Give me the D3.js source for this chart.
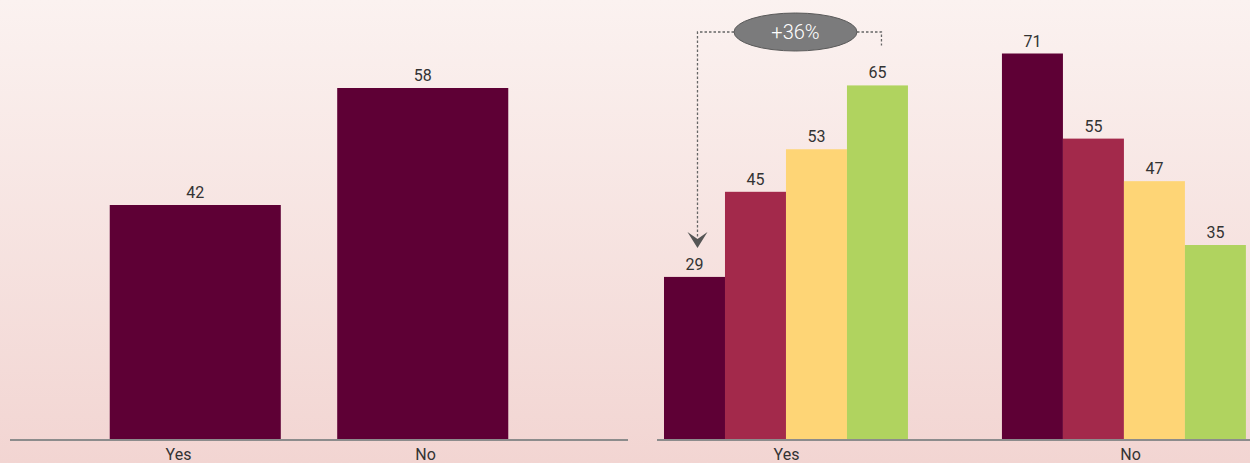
<!DOCTYPE html>
<html>
<head>
<meta charset="utf-8">
<script src="https://cdn.jsdelivr.net/npm/d3@7/dist/d3.min.js"></script>
<style>
  html, body { margin: 0; padding: 0; }
  body { width: 1250px; height: 463px; overflow: hidden; }
  svg { display: block; font-family: Roboto, "Noto Sans", sans-serif; }
</style>
</head>
<body>
<svg id="chart" width="1250" height="463"></svg>
<script>
// Categories and values
const categories = ["Yes", "No"];
const overallValues = [42, 58];
const seriesNames = ["s1", "s2", "s3", "s4"];
const groupedValues = {
  Yes: [29, 45, 53, 65],
  No:  [71, 55, 47, 35]
};
const seriesColors = ["#5e0035", "#a3294b", "#fed576", "#b0d35f"];
const changeLabel = "+36%";

const W = 1250, H = 463;
const baseY = 439;
const svg = d3.select("#chart");

// Background gradient
const defs = svg.append("defs");
const grad = defs.append("linearGradient")
  .attr("id", "bg").attr("x1", 0).attr("y1", 0).attr("x2", 0).attr("y2", 1);
grad.append("stop").attr("offset", "0%").attr("stop-color", "#fbf2f0");
grad.append("stop").attr("offset", "100%").attr("stop-color", "#f2d5d2");
svg.append("rect").attr("width", W).attr("height", H).attr("fill", "url(#bg)");

const labelFont = 16;
const textColor = "#333";

// ---------- Left panel: overall ----------
const xL = d3.scaleBand().domain(categories).range([-4, 622]).paddingInner(0.248).paddingOuter(0.5);
const yL = d3.scaleLinear().domain([10, 58]).range([baseY, 88]);
const xLAxis = d3.scalePoint().domain(categories).range([178, 425]);

const left = svg.append("g");
left.selectAll("rect.bar").data(categories).join("rect")
  .attr("class", "bar")
  .attr("x", d => xL(d))
  .attr("width", xL.bandwidth())
  .attr("y", (d, i) => yL(overallValues[i]))
  .attr("height", (d, i) => baseY - yL(overallValues[i]))
  .attr("fill", seriesColors[0]);

left.selectAll("text.val").data(categories).join("text")
  .attr("class", "val")
  .attr("x", d => xL(d) + xL.bandwidth() / 2)
  .attr("y", (d, i) => yL(overallValues[i]) - 7)
  .attr("text-anchor", "middle")
  .attr("font-size", labelFont)
  .attr("fill", textColor)
  .text((d, i) => overallValues[i]);

const axL = left.append("g").attr("transform", `translate(0,${baseY})`)
  .call(d3.axisBottom(xLAxis).tickSize(0).tickPadding(10));
axL.select(".domain").remove();
axL.selectAll("text").attr("font-size", labelFont).attr("fill", textColor)
  .attr("font-family", "Roboto, 'Noto Sans', sans-serif");
left.append("line").attr("x1", 10).attr("x2", 628).attr("y1", baseY + 1).attr("y2", baseY + 1)
  .attr("stroke", "#8c8c8c").attr("stroke-width", 2);

// ---------- Right panel: grouped ----------
const x0 = d3.scaleBand().domain(categories).range([630.2, 1279.7]).paddingInner(0.2781).paddingOuter(0.1);
const x1 = d3.scaleBand().domain(seriesNames).range([0, x0.bandwidth()]);
const yR = d3.scaleLinear().domain([-1.47, 71]).range([baseY, 53.5]);
const xRAxis = d3.scalePoint().domain(categories).range([786, 1130]);

const right = svg.append("g");
const groups = right.selectAll("g.grp").data(categories).join("g")
  .attr("class", "grp")
  .attr("transform", d => `translate(${x0(d)},0)`);

groups.selectAll("rect").data(d => groupedValues[d].map((v, i) => ({ v, s: seriesNames[i], i })))
  .join("rect")
  .attr("x", d => x1(d.s))
  .attr("width", x1.bandwidth())
  .attr("y", d => yR(d.v))
  .attr("height", d => baseY - yR(d.v))
  .attr("fill", d => seriesColors[d.i]);

groups.selectAll("text").data(d => groupedValues[d].map((v, i) => ({ v, s: seriesNames[i] })))
  .join("text")
  .attr("x", d => x1(d.s) + x1.bandwidth() / 2)
  .attr("y", d => yR(d.v) - 7)
  .attr("text-anchor", "middle")
  .attr("font-size", labelFont)
  .attr("fill", textColor)
  .text(d => d.v);

const axR = right.append("g").attr("transform", `translate(0,${baseY})`)
  .call(d3.axisBottom(xRAxis).tickSize(0).tickPadding(10));
axR.select(".domain").remove();
axR.selectAll("text").attr("font-size", labelFont).attr("fill", textColor)
  .attr("font-family", "Roboto, 'Noto Sans', sans-serif");
right.append("line").attr("x1", 657).attr("x2", 1250).attr("y1", baseY + 1).attr("y2", baseY + 1)
  .attr("stroke", "#8c8c8c").attr("stroke-width", 2);

// ---------- Change annotation between first and last series of "Yes" ----------
const yesVals = groupedValues.Yes;
const xFirst = x0("Yes") + x1(seriesNames[0]) + x1.bandwidth() / 2 + 3;
const xLast = x0("Yes") + x1(seriesNames[3]) + x1.bandwidth() / 2 + 4;
const ell = { cx: 795.5, cy: 32, rx: 61.5, ry: 19 };
const arrowTipY = yR(yesVals[0]) - 29;

const ann = svg.append("g");
const dash = { stroke: "#666", "stroke-width": 1.3, "stroke-dasharray": "2.5,2" };
const path1 = ann.append("path")
  .attr("d", `M${ell.cx - ell.rx},${ell.cy} H${xFirst} V${arrowTipY - 10}`)
  .attr("fill", "none");
const path2 = ann.append("path")
  .attr("d", `M${ell.cx + ell.rx},${ell.cy} H${xLast} V${yR(yesVals[3]) - 40}`)
  .attr("fill", "none");
[path1, path2].forEach(p => Object.entries(dash).forEach(([k, v]) => p.attr(k, v)));

ann.append("path")
  .attr("d", `M${xFirst - 10},${arrowTipY - 16} L${xFirst},${arrowTipY - 9} L${xFirst + 10},${arrowTipY - 16} L${xFirst},${arrowTipY} Z`)
  .attr("fill", "#555");

ann.append("ellipse")
  .attr("cx", ell.cx).attr("cy", ell.cy).attr("rx", ell.rx).attr("ry", ell.ry)
  .attr("fill", "#7b7b7c").attr("stroke", "#5a5a5a").attr("stroke-width", 1);
ann.append("text")
  .attr("x", ell.cx).attr("y", ell.cy + 7)
  .attr("text-anchor", "middle")
  .attr("font-size", 20)
  .attr("font-weight", 300)
  .attr("fill", "#fff")
  .text(changeLabel);
</script>
</body>
</html>
